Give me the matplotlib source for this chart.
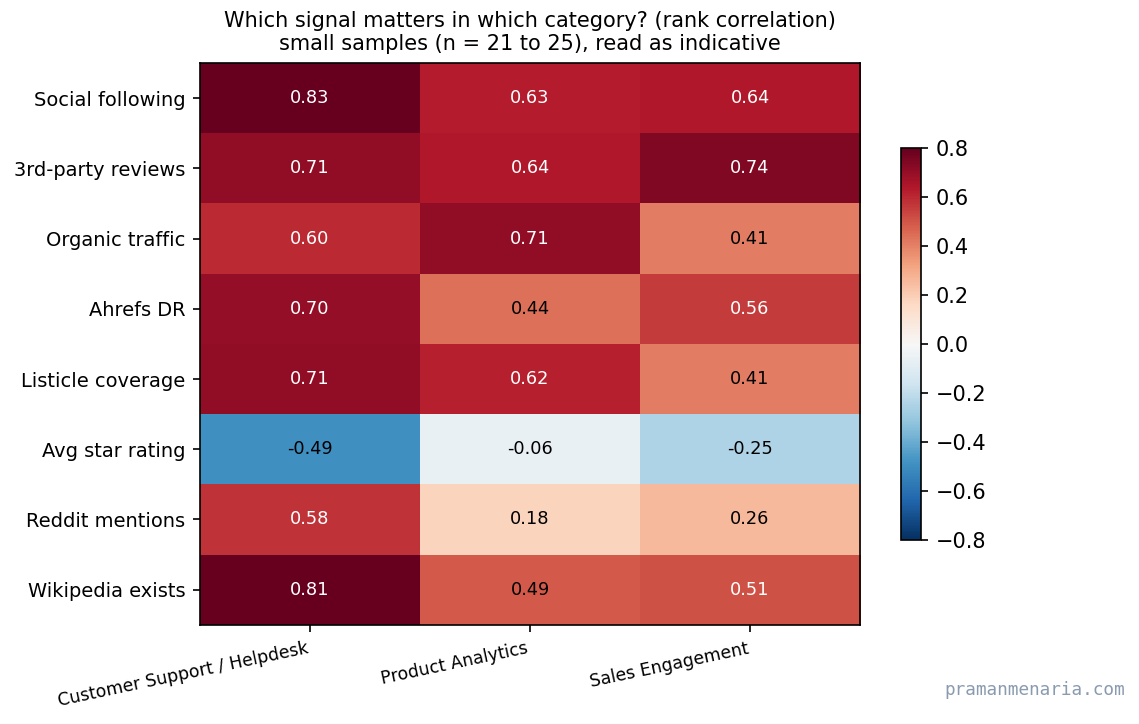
import numpy as np
import matplotlib
matplotlib.use("Agg")
import matplotlib.pyplot as plt

signals = ["Social following", "3rd-party reviews", "Organic traffic", "Ahrefs DR",
           "Listicle coverage", "Avg star rating", "Reddit mentions", "Wikipedia exists"]
categories = ["Customer Support / Helpdesk", "Product Analytics", "Sales Engagement"]
support = [0.83, 0.71, 0.60, 0.70, 0.71, -0.49, 0.58, 0.81]
analytics = [0.63, 0.64, 0.71, 0.44, 0.62, -0.06, 0.18, 0.49]
sales = [0.64, 0.74, 0.41, 0.56, 0.41, -0.25, 0.26, 0.51]

data = np.array([support, analytics, sales]).T

fig = plt.figure(figsize=(1139 / 150, 724 / 150), dpi=150)
ax = fig.add_axes([0.1756, 0.137, 0.5795, 0.776])
im = ax.imshow(data, cmap="RdBu_r", vmin=-0.8, vmax=0.8, aspect="auto")

for i in range(data.shape[0]):
    for j in range(data.shape[1]):
        v = data[i, j]
        ax.text(j, i, f"{v:.2f}", ha="center", va="center", fontsize=8.5,
                color="white" if abs(v) > 0.5 else "black")

ax.set_yticks(range(len(signals)))
ax.set_yticklabels(signals, fontsize=9.3)
ax.set_xticks(range(len(categories)))
ax.set_xticklabels(categories, rotation=12, ha="right", fontsize=8.3)
ax.set_title("Which signal matters in which category? (rank correlation)\n"
             "small samples (n = 21 to 25), read as indicative", fontsize=10)

cax = fig.add_axes([0.791, 0.254, 0.0176, 0.541])
fig.colorbar(im, cax=cax)

fig.text(0.988, 0.035, "pramanmenaria.com", ha="right", va="bottom",
         family="monospace", fontsize=8.5, color="#8a9bb0")

fig.savefig("out.png", dpi=150)
